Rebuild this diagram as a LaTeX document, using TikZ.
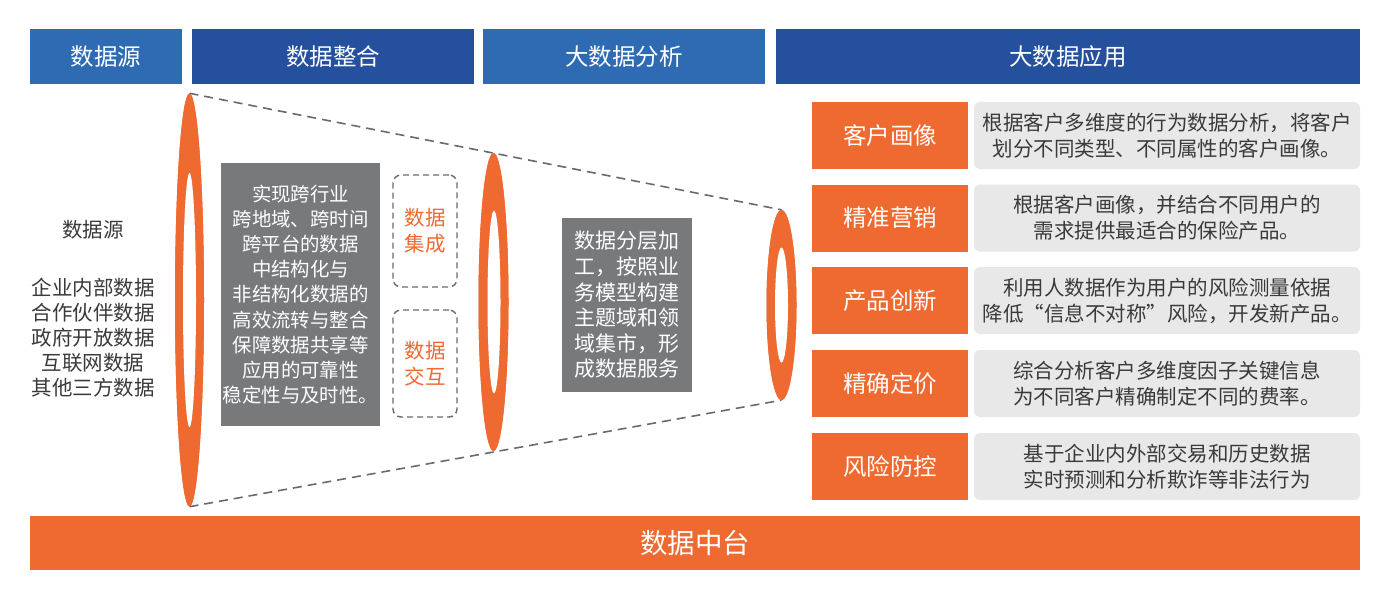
\documentclass[tikz,border=0pt]{standalone}
\usepackage{fontspec}
\setmainfont{Noto Sans CJK SC}
\usetikzlibrary{shapes.geometric}
\definecolor{lblue}{HTML}{2E6BB3}
\definecolor{dblue}{HTML}{24509E}
\definecolor{orng}{HTML}{EE6A31}
\definecolor{gbox}{HTML}{78797B}
\definecolor{lgray}{HTML}{E8E8E8}
\definecolor{dtext}{HTML}{3A3A3A}
\definecolor{dline}{HTML}{6A6A6A}
\begin{document}
\begin{tikzpicture}[x=1pt,y=-1pt,
  hdr/.style={rectangle,inner sep=0,minimum height=55,text=white,font=\fontsize{23.5}{26}\selectfont},
  grey/.style={rectangle,fill=gbox,inner sep=0,text=white,align=center},
  dbox/.style={rectangle,draw=dline,dash pattern=on 6pt off 4pt,line width=1.4pt,rounded corners=8pt,minimum width=64,inner sep=0,text=orng,align=center,font=\fontsize{20.5}{26}\selectfont},
  olab/.style={rectangle,fill=orng,minimum width=156,minimum height=67,inner sep=0,text=white,font=\fontsize{23.5}{26}\selectfont},
  desc/.style={rectangle,fill=lgray,rounded corners=6pt,minimum width=386,minimum height=67,inner sep=0,text=dtext,align=center,font=\fontsize{20.5}{26}\selectfont},
  outring/.style={ellipse,fill=orng,inner sep=0},
  inring/.style={ellipse,fill=white,inner sep=0},
  funnel/.style={draw=dline,line width=1.6pt,dash pattern=on 9pt off 6pt}
]
\useasboundingbox[fill=white] (0,0) rectangle (1400,599);
% headers
\node[hdr,fill=lblue,minimum width=152] (h1) at (106,56.5) {数据源};
\node[hdr,fill=dblue,minimum width=282] (h2) at (333,56.5) {数据整合};
\node[hdr,fill=lblue,minimum width=282] (h3) at (624,56.5) {大数据分析};
\node[hdr,fill=dblue,minimum width=584] (h4) at (1068,56.5) {大数据应用};
% bottom bar
\node[rectangle,fill=orng,minimum width=1330,minimum height=54,inner sep=0,text=white,font=\fontsize{27.5}{30}\selectfont] (base) at (695,543) {数据中台};
% rings (outer shapes as coordinates for funnel)
\node[outring,minimum width=29,minimum height=413] (r1) at (189.5,300) {};
\node[outring,minimum width=30,minimum height=298] (r2) at (493.5,302) {};
\node[outring,minimum width=30,minimum height=190] (r3) at (781.5,305) {};
\draw[funnel] (r1.north) -- (r3.north);
\draw[funnel] (r1.south) -- (r3.south);
\node[outring,minimum width=29,minimum height=413] at (189.5,300) {};
\node[outring,minimum width=30,minimum height=298] at (493.5,302) {};
\node[outring,minimum width=30,minimum height=190] at (781.5,305) {};
\node[inring,minimum width=13,minimum height=254] (i1) at (189.5,300) {};
\node[inring,minimum width=13,minimum height=183] (i2) at (494,302) {};
\node[inring,minimum width=13,minimum height=115] (i3) at (781.5,305) {};
% data source text
\node[text=dtext,font=\fontsize{20.5}{25}\selectfont] (src) at (93,230) {数据源};
\node[text=dtext,align=center,font=\fontsize{20.5}{25}\selectfont] (srclist) at (93,338) {企业内部数据\\合作伙伴数据\\政府开放数据\\互联网数据\\其他三方数据};
% grey boxes
\node[grey,minimum width=159,minimum height=263,font=\fontsize{19.4}{25.1}\selectfont] (g1) at (300.5,294.5) {实现跨行业\\跨地域、跨时间\\跨平台的数据\\中结构化与\\非结构化数据的\\高效流转与整合\\保障数据共享等\\应用的可靠性\\稳定性与及时性。};
\node[dbox,minimum height=112] (d1) at (425,231) {数据\\集成};
\node[dbox,minimum height=107] (d2) at (425,363.5) {数据\\交互};
\node[grey,minimum width=130,minimum height=174,font=\fontsize{21}{25.6}\selectfont] (g2) at (627,305) {数据分层加\\工，按照业\\务模型构建\\主题域和领\\域集市，形\\成数据服务};
% applications
\node[olab] (a1) at (890,135.5) {客户画像};
\node[olab] (a2) at (890,218) {精准营销};
\node[olab] (a3) at (890,300.5) {产品创新};
\node[olab] (a4) at (890,383.5) {精确定价};
\node[olab] (a5) at (890,466.5) {风险防控};
\node[desc] (e1) at (1167,135.5) {根据客户多维度的行为数据分析，将客户\\划分不同类型、不同属性的客户画像。};
\node[desc] (e2) at (1167,218) {根据客户画像，并结合不同用户的\\需求提供最适合的保险产品。};
\node[desc] (e3) at (1167,300.5) {利用人数据作为用户的风险测量依据\\降低“信息不对称”风险，开发新产品。};
\node[desc] (e4) at (1167,383.5) {综合分析客户多维度因子关键信息\\为不同客户精确制定不同的费率。};
\node[desc] (e5) at (1167,466.5) {基于企业内外部交易和历史数据\\实时预测和分析欺诈等非法行为};
\end{tikzpicture}
\end{document}
